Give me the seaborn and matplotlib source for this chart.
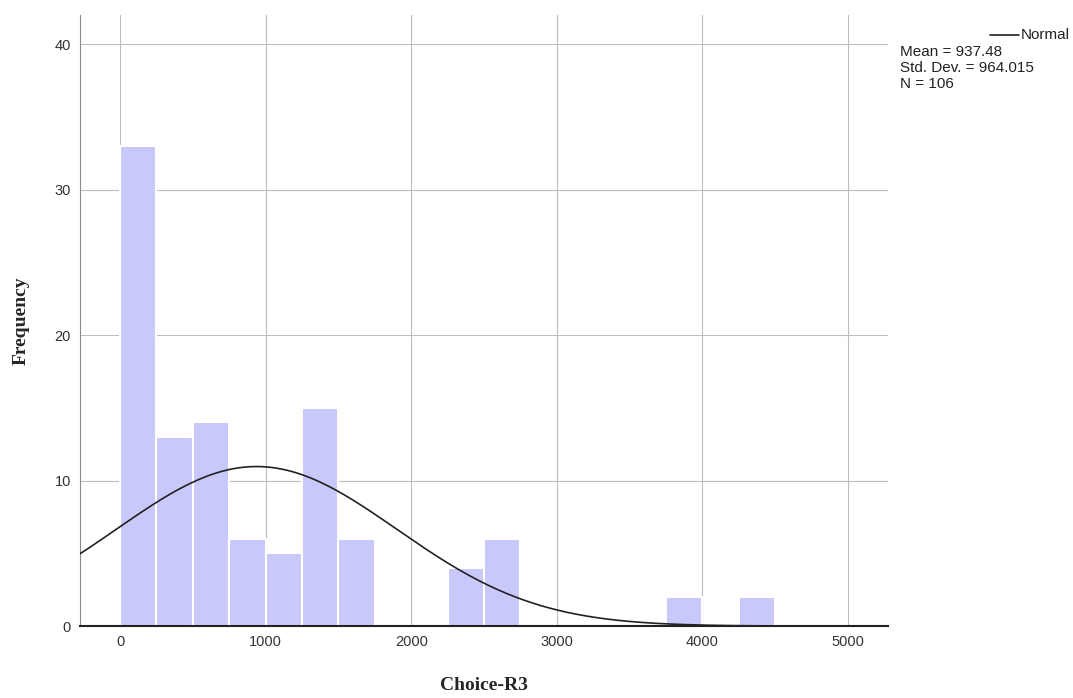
import numpy as np
import pandas as pd
import matplotlib
matplotlib.use("Agg")
import matplotlib.pyplot as plt
import seaborn as sns

# Data
bin_left = [0, 250, 500, 750, 1000, 1250, 1500, 1750, 2000, 2250, 2500, 2750,
            3000, 3250, 3500, 3750, 4000, 4250]
counts = [33, 13, 14, 6, 5, 15, 6, 0, 0, 4, 6, 0, 0, 0, 0, 2, 0, 2]
bin_width = 250
mean_val = 937.48
sd_val = 964.015
n_val = 106
x_ticks = [0, 1000, 2000, 3000, 4000, 5000]
y_ticks = [0, 10, 20, 30, 40]

sns.set_style("white")
plt.rcParams['font.family'] = ['Liberation Sans', 'DejaVu Sans']

fig = plt.figure(figsize=(10.73, 6.98), dpi=100)
ax = fig.add_axes([0.0746, 0.103, 0.753, 0.8755])

df = pd.DataFrame({"x": np.array(bin_left) + bin_width / 2, "w": counts})
edges = list(bin_left) + [bin_left[-1] + bin_width]
sns.histplot(data=df, x="x", weights="w", bins=edges, ax=ax,
             color="#c8c8fa", alpha=1.0, edgecolor="white", linewidth=1.5,
             zorder=2)

xs = np.linspace(-300, 5300, 600)
ys = n_val * bin_width / (sd_val * np.sqrt(2 * np.pi)) * np.exp(-0.5 * ((xs - mean_val) / sd_val) ** 2)
sns.lineplot(x=xs, y=ys, ax=ax, color="#222222", linewidth=1.2, zorder=3)

ax.set_xlim(-275, 5275)
ax.set_ylim(0, 42)
ax.set_xticks(x_ticks)
ax.set_yticks(y_ticks)
ax.grid(True, color="#bdbdbd", linewidth=0.8, zorder=0)
ax.set_axisbelow(True)
for s in ["top", "right"]:
    ax.spines[s].set_visible(False)
ax.spines["left"].set_color("#888888")
ax.spines["bottom"].set_color("#222222")
ax.spines["bottom"].set_linewidth(1.5)
ax.tick_params(axis="both", labelsize=10.5, colors="#333333", length=3, color="#888888")

serif = ['Liberation Serif', 'DejaVu Serif']
ax.set_xlabel("Choice-R3", fontsize=14, fontweight="bold", family=serif, labelpad=20)
ax.set_ylabel("Frequency", fontsize=14, fontweight="bold", family=serif, labelpad=18)

# Legend outside axes
fig.add_artist(plt.Line2D([990/1073, 1019/1073], [1 - 35/698, 1 - 35/698],
                          color="#222222", linewidth=1.2))
fig.text(1021/1073, 1 - 35/698, "Normal", fontsize=11, va="center", ha="left", color="#222222")
fig.text(900/1073, 1 - 45/698,
         f"Mean = {mean_val}\nStd. Dev. = {sd_val:.3f}\nN = {n_val}",
         fontsize=11, va="top", ha="left", color="#222222", linespacing=1.2)

fig.savefig("out.png", dpi=100)
